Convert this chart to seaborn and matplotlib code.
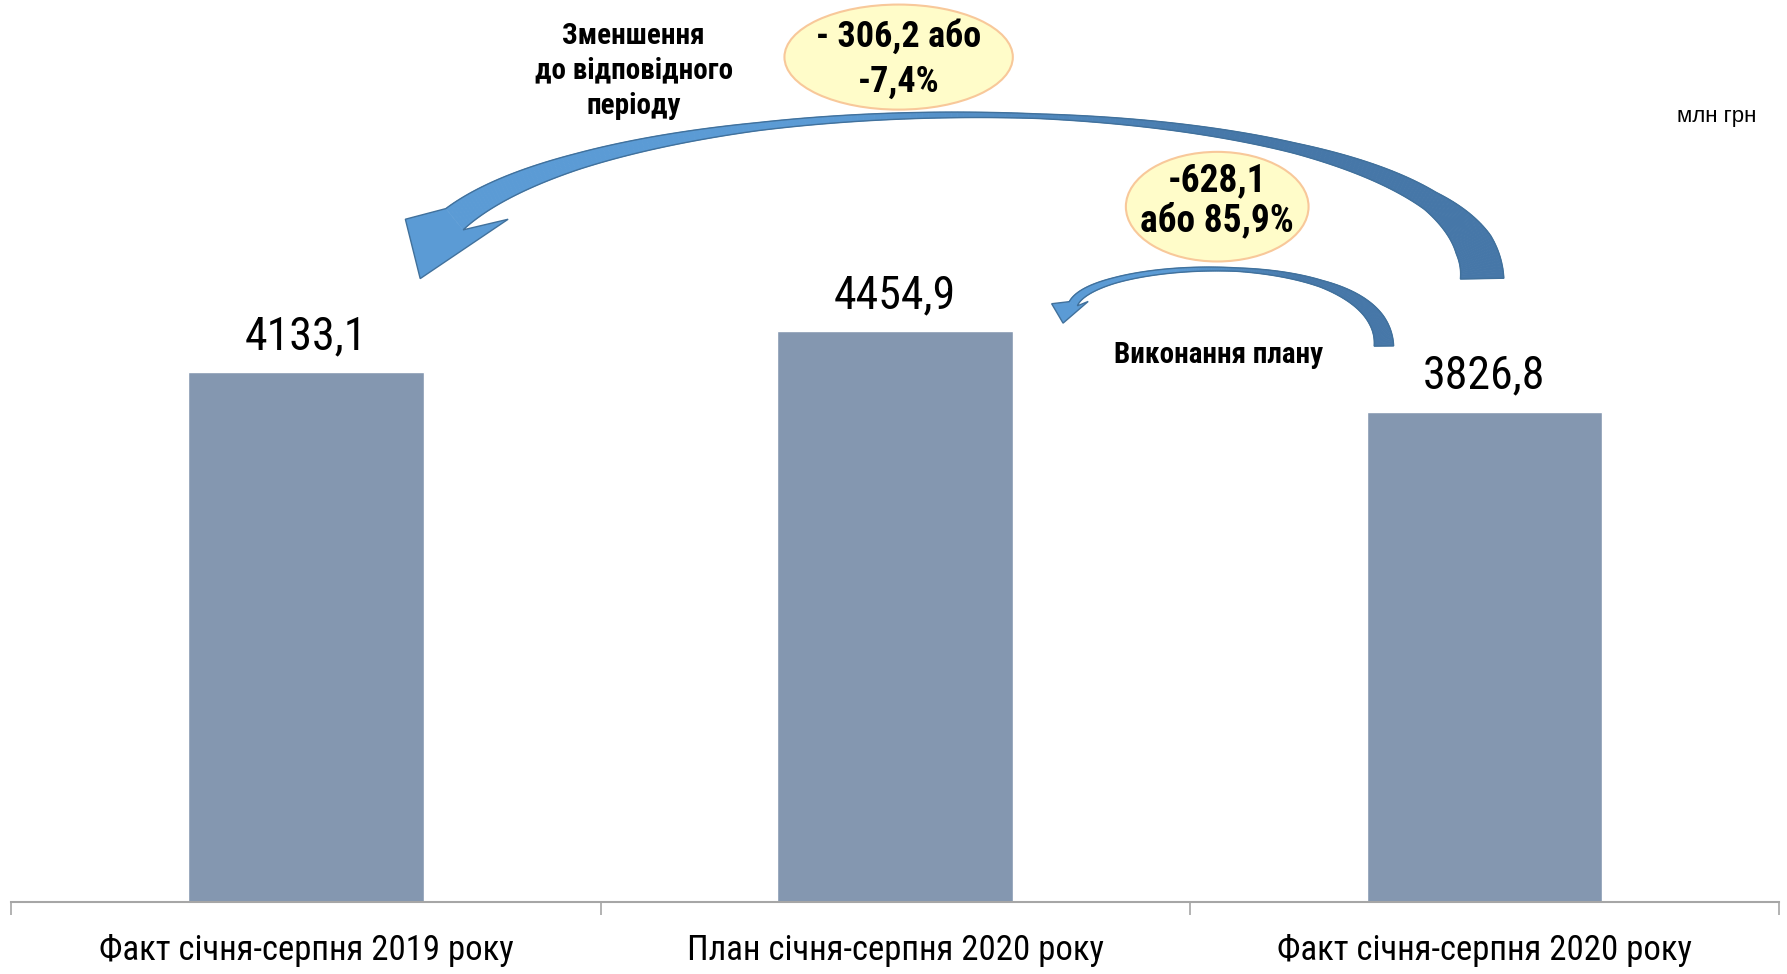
import numpy as np
import pandas as pd
import matplotlib
matplotlib.use("Agg")
import matplotlib.pyplot as plt
from matplotlib.patches import Polygon, Ellipse
import seaborn as sns

# data
categories = ["Факт січня-серпня 2019 року", "План січня-серпня 2020 року", "Факт січня-серпня 2020 року"]
values = [4133.1, 4454.9, 3826.8]
value_labels = ["4133,1", "4454,9", "3826,8"]

note_decrease = "Зменшення\nдо відповідного\nперіоду"
bubble_decrease = "- 306,2 або\n-7,4%"
bubble_plan = "-628,1\nабо 85,9%"
note_plan = "Виконання плану"
unit_label = "млн грн"

df = pd.DataFrame({"category": categories, "value": values})

sns.set_style("white")
narrow = ["Roboto Condensed", "Liberation Sans Narrow", "Liberation Sans", "DejaVu Sans"]
plt.rcParams["font.family"] = narrow
plt.rcParams["text.color"] = "black"

fig = plt.figure(figsize=(17.87, 9.74), dpi=100)
ax = fig.add_axes([0.0064, 0.0739, 0.9891, 0.9261])

sns.barplot(data=df, x="category", y="value", color="#8497B0", width=0.4,
            saturation=1, ax=ax)

ax.set_xlim(-0.5, 2.5)
ax.set_ylim(0, 7040)
ax.set_xlabel("")
ax.set_ylabel("")
ax.set_yticks([])
for s in ["top", "left", "right"]:
    ax.spines[s].set_visible(False)
ax.spines["bottom"].set_color("#A6A6A6")
ax.spines["bottom"].set_linewidth(1.5)

ax.set_xticks(range(len(categories)))
ax.set_xticklabels(categories, fontsize=25)
ax.set_xticks([-0.5, 0.5, 1.5, 2.5], minor=True)
ax.tick_params(axis="x", which="major", length=0, pad=23, labelcolor="black")
ax.tick_params(axis="x", which="minor", bottom=True, length=9, width=1.2,
               color="#A6A6A6", direction="out")

for i, (v, lab) in enumerate(zip(values, value_labels)):
    ax.annotate(lab, (i, v), xytext=(0, 10), textcoords="offset points",
                ha="center", va="bottom", fontsize=33, color="black")

# helpers: reference pixel space (1565 x 853) -> figure fraction
W, H = 1565.0, 853.0


def to_fig(pts):
    pts = np.asarray(pts, float)
    return np.column_stack([pts[:, 0] / W, 1 - pts[:, 1] / H])


def mix(c1, c2, f):
    a = np.array(matplotlib.colors.to_rgb(c1))
    b = np.array(matplotlib.colors.to_rgb(c2))
    return tuple(a + (b - a) * f)


def curved_arrow(ctrl, t_knots, w_knots, head, c_tail, c_head, edge="#41719C"):
    t = np.linspace(0, 1, 240)
    P = np.array(ctrl, float)
    pts = (((1 - t) ** 3)[:, None] * P[0] + (3 * (1 - t) ** 2 * t)[:, None] * P[1]
           + (3 * (1 - t) * t ** 2)[:, None] * P[2] + (t ** 3)[:, None] * P[3])
    d = np.gradient(pts, axis=0)
    d /= np.linalg.norm(d, axis=1)[:, None]
    n = np.column_stack([-d[:, 1], d[:, 0]])
    w = np.interp(t, t_knots, w_knots)
    side_a = pts + n * w[:, None] / 2
    side_b = pts - n * w[:, None] / 2
    for i in range(len(t) - 1):
        f = np.clip((t[i] - 0.35) / 0.3, 0, 1)
        c = mix(c_tail, c_head, f)
        quad = [side_a[i], side_a[i + 1], side_b[i + 1], side_b[i]]
        fig.patches.append(Polygon(to_fig(quad), closed=True, facecolor=c, edgecolor=c,
                                   lw=0.6, transform=fig.transFigure))
    hd = [side_a[-1], head[0], head[2], head[1], side_b[-1]]
    fig.patches.append(Polygon(to_fig(hd), closed=True, facecolor=c_head, edgecolor="none",
                               transform=fig.transFigure))
    outline = np.vstack([side_a, [head[0], head[2], head[1]], side_b[::-1], side_a[:1]])
    fig.patches.append(Polygon(to_fig(outline), closed=True, facecolor="none", edgecolor=edge,
                               lw=1.0, transform=fig.transFigure))


# big arrow: fact 2020 -> fact 2019
curved_arrow([(1298, 244), (1298, 68), (560, 58), (398, 192)],
             [0, 0.06, 0.15, 0.3, 0.5, 0.7, 0.85, 1.0],
             [38, 34, 18, 9, 4, 7, 14, 24],
             [(355, 192), (445, 192), (368, 244)],
             "#4677A8", "#5B9BD5")

# small arrow: fact 2020 -> plan 2020
curved_arrow([(1212, 303), (1212, 215), (960, 225), (940, 266)],
             [0, 0.1, 0.3, 0.5, 0.8, 1.0],
             [17, 14, 6, 3, 5, 8],
             [(921, 266), (953, 264), (931, 283)],
             "#4677A8", "#5B9BD5")

# bubbles
for (cx, cy, ew, eh) in [(787, 50, 200, 92), (1066, 181, 160, 96)]:
    fig.patches.append(Ellipse(to_fig([(cx, cy)])[0], ew / W, eh / H, facecolor="#FFFCC9",
                               edgecolor="#F8C89A", lw=1.5, transform=fig.transFigure))


def put(text, x, y, **kw):
    fx, fy = to_fig([(x, y)])[0]
    fig.text(fx, fy, text, ha="center", va="center", color="black", **kw)


put(note_decrease, 555, 62, fontsize=21, fontweight="bold", linespacing=1.32)
put(bubble_decrease, 787, 52, fontsize=26, fontweight="bold", linespacing=1.32)
put(bubble_plan, 1066, 176, fontsize=27, fontweight="bold", linespacing=1.1)
put(note_plan, 1067, 311, fontsize=21, fontweight="bold")
put(unit_label, 1503, 102, fontsize=16, family=["Liberation Sans", "DejaVu Sans"])

fig.savefig("out.png", dpi=100, facecolor="white")
